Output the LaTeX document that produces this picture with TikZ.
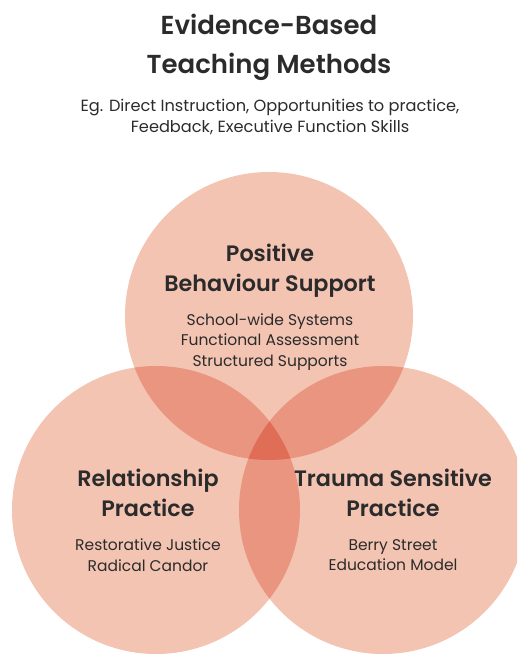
\documentclass[tikz,border=0pt]{standalone}
\usepackage{fontspec}
\setmainfont{Poppins}[BoldFont={Poppins SemiBold}]
\definecolor{venn}{HTML}{F4C4B3}
\definecolor{vennmid}{HTML}{E9957F}
\definecolor{venncore}{HTML}{E06E57}
\definecolor{ink}{HTML}{2B2B2B}

\begin{document}
\begin{tikzpicture}[x=1pt,y=-1pt,
  title node/.style={text=ink, align=center, font=\fontsize{26}{39}\selectfont\bfseries},
  note node/.style={text=ink, align=center, font=\fontsize{16.2}{21}\selectfont},
  head node/.style={text=ink, align=center, font=\fontsize{22.3}{30}\selectfont\bfseries},
  item node/.style={text=ink, align=center, font=\fontsize{15.5}{20.5}\selectfont}]
  \useasboundingbox (0,0) rectangle (517,655);
  \clip (0,0) rectangle (517,655);
  \coordinate (ct) at (269,316);
  \coordinate (cl) at (156,510);
  \coordinate (cr) at (383,510);
  % the three circles
  \fill[venn] (ct) circle (144pt);
  \fill[venn] (cl) circle (144pt);
  \fill[venn] (cr) circle (144pt);
  \begin{scope}
    \clip (cl) circle (144pt);
    \fill[vennmid] (cr) circle (144pt);
  \end{scope}
  \begin{scope}
    \clip (ct) circle (144pt);
    \fill[vennmid] (cl) circle (144pt);
    \fill[vennmid] (cr) circle (144pt);
    \clip (cl) circle (144pt);
    \fill[venncore] (cr) circle (144pt);
  \end{scope}
  % texts
  \node[title node] (title) at (269,47) {Evidence-Based\\Teaching Methods};
  \node[note node] (note) at (270,117) {Eg. Direct Instruction, Opportunities to practice,\\Feedback, Executive Function Skills};
  \node[head node] (pbs) at (270,271) {Positive\\Behaviour Support};
  \node[item node] (pbsitems) at (270,342) {School-wide Systems\\Functional Assessment\\Structured Supports};
  \node[head node] (rel) at (148,493) {Relationship\\Practice};
  \node[item node] (relitems) at (148,555) {Restorative Justice\\Radical Candor};
  \node[head node] (tsp) at (393,493) {Trauma Sensitive\\Practice};
  \node[item node] (tspitems) at (393,555) {Berry Street\\Education Model};
\end{tikzpicture}
\end{document}
